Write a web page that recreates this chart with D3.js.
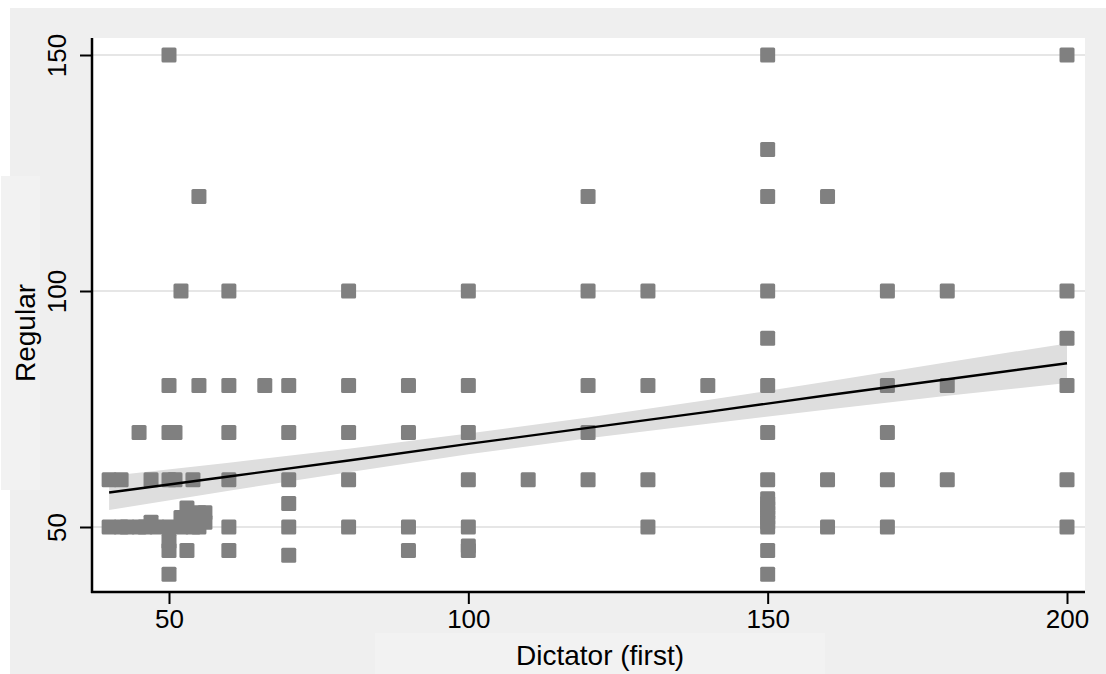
<!DOCTYPE html>
<html>
<head>
<meta charset="utf-8">
<script src="https://cdn.jsdelivr.net/npm/d3@7"></script>
<style>
  body { margin: 0; background: #ffffff; }
  text { font-family: "Liberation Sans", Arial, sans-serif; fill: #000; }
</style>
</head>
<body>
<script>
// scatter: Dictator (first) vs Regular, with linear fit + 95% CI
var dictatorFirst = [
  40, 40, 42, 42, 43, 45, 45, 46, 47, 47, 48,
  50, 50, 50, 50, 50, 50, 50, 50,
  51, 51, 52, 52, 52, 53, 53, 54, 54, 54, 55, 55, 55, 55, 56, 56,
  60, 60, 60, 60, 60, 60, 66,
  70, 70, 70, 70, 70, 70,
  80, 80, 80, 80, 80,
  90, 90, 90, 90,
  100, 100, 100, 100, 100, 100, 100,
  110,
  120, 120, 120, 120, 120,
  130, 130, 130, 130,
  140,
  150, 150, 150, 150, 150, 150, 150, 150, 150, 150, 150, 150, 150, 150, 150, 150, 150,
  160, 160, 160,
  170, 170, 170, 170, 170,
  180, 180, 180,
  200, 200, 200, 200, 200, 200
];
var regular = [
  60, 50, 60, 50, 50, 70, 50, 50, 60, 51, 50,
  150, 80, 70, 60, 50, 47, 45, 40,
  70, 60, 100, 52, 50, 54, 45, 60, 52, 50, 120, 80, 53, 50, 53, 51,
  100, 80, 70, 60, 50, 45, 80,
  80, 70, 60, 55, 50, 44,
  100, 80, 70, 60, 50,
  80, 70, 50, 45,
  100, 80, 70, 60, 50, 46, 45,
  60,
  120, 100, 80, 70, 60,
  100, 80, 60, 50,
  80,
  150, 130, 120, 100, 90, 80, 70, 60, 56, 55, 54, 53, 52, 51, 50, 45, 40,
  120, 60, 50,
  100, 80, 70, 60, 50,
  100, 80, 60,
  150, 100, 90, 80, 60, 50
];

// fitted line and confidence band
var fitX     = [40, 60, 80, 100, 120, 140, 160, 180, 200];
var fitY     = [57.3, 60.7, 64.1, 67.6, 71.0, 74.4, 77.9, 81.3, 84.7];
var ciLower  = [53.6, 57.7, 61.6, 65.4, 68.8, 71.9, 74.9, 77.8, 80.5];
var ciUpper  = [60.8, 63.6, 66.6, 69.8, 73.2, 76.9, 80.8, 84.9, 88.9];

var xTicks = [50, 100, 150, 200];
var yTicks = [50, 100, 150];

var W = 1106, H = 674;
var plot = {left: 92, right: 1085, top: 38, bottom: 592};

var svg = d3.select("body").append("svg")
    .attr("width", W)
    .attr("height", H);

// outer panel
svg.append("rect").attr("x", 10).attr("y", 8).attr("width", W - 10).attr("height", H - 8)
    .attr("fill", "#efefef");
// title boxes behind axis labels
svg.append("rect").attr("x", 1).attr("y", 176).attr("width", 39).attr("height", 314)
    .attr("fill", "#f2f2f2");
svg.append("rect").attr("x", 375).attr("y", 633).attr("width", 450).attr("height", 41)
    .attr("fill", "#f2f2f2");
// plot region
svg.append("rect").attr("x", plot.left).attr("y", plot.top)
    .attr("width", plot.right - plot.left).attr("height", plot.bottom - plot.top)
    .attr("fill", "#ffffff");

var x = d3.scaleLinear().domain([50, 200]).range([169, 1067]);
var y = d3.scaleLinear().domain([50, 150]).range([527, 55]);

// gridlines
svg.append("g").selectAll("line").data(yTicks).join("line")
    .attr("x1", plot.left).attr("x2", plot.right)
    .attr("y1", d => y(d)).attr("y2", d => y(d))
    .attr("stroke", "#e6e6e6").attr("stroke-width", 2);

// CI band
var band = fitX.map((v, i) => ({x: v, lo: ciLower[i], hi: ciUpper[i]}));
svg.append("path").datum(band)
    .attr("d", d3.area().x(d => x(d.x)).y0(d => y(d.lo)).y1(d => y(d.hi)))
    .attr("fill", "#dedede");

// points
var pts = dictatorFirst.map((v, i) => ({x: v, y: regular[i]}));
var s = 15;
svg.append("g").selectAll("rect").data(pts).join("rect")
    .attr("x", d => x(d.x) - s / 2)
    .attr("y", d => y(d.y) - s / 2)
    .attr("width", s).attr("height", s)
    .attr("rx", 1.5)
    .attr("fill", "#808080");

// fitted line
var fit = fitX.map((v, i) => ({x: v, y: fitY[i]}));
svg.append("path").datum(fit)
    .attr("d", d3.line().x(d => x(d.x)).y(d => y(d.y)))
    .attr("fill", "none").attr("stroke", "#000").attr("stroke-width", 2.4);

// axes
var xAxis = d3.axisBottom(x).tickValues(xTicks).tickSize(12).tickPadding(6).tickSizeOuter(0);
var gx = svg.append("g").attr("transform", "translate(0," + plot.bottom + ")").call(xAxis);
gx.select(".domain").remove();
gx.selectAll(".tick line").attr("stroke", "#000").attr("stroke-width", 2);
gx.selectAll(".tick text").attr("font-size", 26).attr("font-family", "Liberation Sans, Arial, sans-serif");
svg.append("line").attr("x1", plot.left - 1).attr("x2", plot.right)
    .attr("y1", plot.bottom).attr("y2", plot.bottom)
    .attr("stroke", "#000").attr("stroke-width", 2.5);

var yAxis = d3.axisLeft(y).tickValues(yTicks).tickSize(12).tickSizeOuter(0);
var gy = svg.append("g").attr("transform", "translate(" + plot.left + ",0)").call(yAxis);
gy.select(".domain").remove();
gy.selectAll(".tick line").attr("stroke", "#000").attr("stroke-width", 2);
gy.selectAll(".tick text")
    .attr("font-size", 26).attr("font-family", "Liberation Sans, Arial, sans-serif")
    .attr("x", null).attr("dy", null)
    .attr("text-anchor", "middle")
    .attr("transform", "translate(-26,0) rotate(-90)");
svg.append("line").attr("x1", plot.left).attr("x2", plot.left)
    .attr("y1", plot.top).attr("y2", plot.bottom + 1)
    .attr("stroke", "#000").attr("stroke-width", 2.5);

// axis titles
svg.append("text")
    .attr("x", 600).attr("y", 665)
    .attr("text-anchor", "middle")
    .attr("font-size", 28)
    .text("Dictator (first)");
svg.append("text")
    .attr("transform", "translate(35,333) rotate(-90)")
    .attr("text-anchor", "middle")
    .attr("font-size", 28)
    .text("Regular");
</script>
</body>
</html>
